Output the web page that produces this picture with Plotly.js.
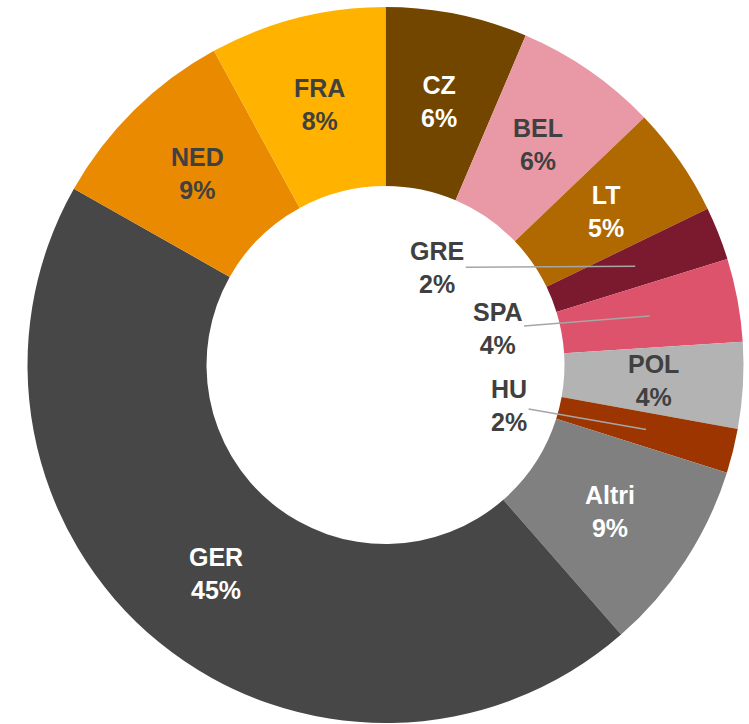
<!DOCTYPE html>
<html><head><meta charset="utf-8">
<script src="https://cdn.plot.ly/plotly-3.0.1.min.js"></script>
<style>html,body{margin:0;padding:0;background:#fff}#chart{width:749px;height:724px}</style>
</head><body><div id="chart"></div>
<script>
// Data
const labels = ['CZ','BEL','LT','GRE','SPA','POL','HU','Altri','GER','NED','FRA'];
const values = [6.4, 6.45, 4.95, 2.4, 3.75, 3.9, 2.0, 8.7, 44.6, 8.85, 7.95];

// Styles
const sliceColors = ['#734600','#E899A5','#B06800','#7B1A2F','#DC536B','#B3B3B3','#9C3500','#808080','#474747','#E98A00','#FFB300'];
const textColors  = ['#FFFFFF','#404040','#FFFFFF','#404040','#404040','#404040','#404040','#FFFFFF','#FFFFFF','#404040','#404040'];
// labels drawn in the hole with leader lines: pixel offset of text from leader tip
const holeLabelOffsets = {GRE: [-198, 1], SPA: [-152, 12], HU: [-137, -24]};

const W = 749, H = 724;
const domX = [27.5 / W, 743.5 / W];
const domY = [1 - 723 / H, 1 - 7 / H];
const hole = 0.5;
const Rpx = 358;

const total = values.reduce((a, b) => a + b, 0);
const cx = (domX[0] + domX[1]) / 2, cy = (domY[0] + domY[1]) / 2;
const rFrac = (1 + hole) / 2;
const font = {family: 'Liberation Sans, Arial, sans-serif', size: 25, weight: 'bold'};

const annotations = [];
let cum = 0;
values.forEach((v, i) => {
  const mid = (cum + v / 2) / total * 2 * Math.PI;
  cum += v;
  const x = cx + rFrac * (Rpx / W) * Math.sin(mid);
  const y = cy + rFrac * (Rpx / H) * Math.cos(mid);
  const txt = labels[i] + '<br>' + Math.round(v / total * 100) + '%';
  const off = holeLabelOffsets[labels[i]];
  if (off) {
    annotations.push({
      x: x, y: y, xref: 'paper', yref: 'paper', text: txt,
      showarrow: true, ax: off[0], ay: off[1], arrowhead: 0, arrowwidth: 1.5,
      arrowcolor: '#A6A6A6', standoff: 0, startstandoff: 0,
      font: Object.assign({}, font, {color: '#404040'})
    });
  } else {
    annotations.push({
      x: x, y: y, xref: 'paper', yref: 'paper', text: txt,
      showarrow: false, xanchor: 'center', yanchor: 'middle',
      font: Object.assign({}, font, {color: textColors[i]})
    });
  }
});

const trace = {
  type: 'pie', labels: labels, values: values, hole: hole,
  sort: false, direction: 'clockwise', rotation: 0,
  marker: {colors: sliceColors, line: {width: 0}},
  textinfo: 'none', hoverinfo: 'label+percent',
  domain: {x: domX, y: domY}
};

Plotly.newPlot('chart', [trace], {
  width: W, height: H, margin: {l: 0, r: 0, t: 0, b: 0},
  showlegend: false, paper_bgcolor: '#FFFFFF',
  annotations: annotations
}, {staticPlot: true});
</script></body></html>
